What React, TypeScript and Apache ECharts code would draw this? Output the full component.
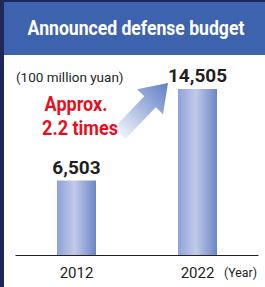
import React, { useEffect, useRef } from "react";
import * as echarts from "echarts";

const categories = ["2012", "2022"];
const budgetValues = [6503, 14505];
const titleText = "Announced defense budget";
const unitText = "(100 million yuan)";
const yearText = "(Year)";
const noteLines = ["Approx.", "2.2 times"];

const FONT = 'Roboto, "Liberation Sans", sans-serif';

function arrowPoints(tip: number[], dir: number[], shaftLen: number, headLen: number, headHalf: number, shaftHalf: number) {
  const l = Math.hypot(dir[0], dir[1]);
  const u = [dir[0] / l, dir[1] / l];
  const n = [-u[1], u[0]];
  const b = [tip[0] - headLen * u[0], tip[1] - headLen * u[1]];
  const t = [b[0] - shaftLen * u[0], b[1] - shaftLen * u[1]];
  const p = (c: number[], k: number) => [c[0] + k * n[0], c[1] + k * n[1]];
  return [p(t, shaftHalf), p(b, shaftHalf), p(b, headHalf), tip, p(b, -headHalf), p(b, -shaftHalf), p(t, -shaftHalf)];
}

export default function App() {
  const ref = useRef<HTMLDivElement>(null);
  useEffect(() => {
    if (!ref.current) return;
    const chart = echarts.init(ref.current, undefined, { renderer: "svg" });
    const barGrad = new echarts.graphic.LinearGradient(0, 0, 1, 0, [
      { offset: 0, color: "#8fa1d8" },
      { offset: 0.45, color: "#c2cae9" },
      { offset: 1, color: "#6a86c6" },
    ]);
    const arrowGrad = new echarts.graphic.LinearGradient(0, 1, 1, 0, [
      { offset: 0, color: "#ffffff" },
      { offset: 0.6, color: "#9fb0dc" },
      { offset: 1, color: "#5e7ec3" },
    ]);
    chart.setOption({
      animation: false,
      backgroundColor: "#ffffff",
      grid: { left: 16, right: 7, top: 89, bottom: 32 },
      xAxis: {
        type: "category",
        data: categories,
        axisLine: { lineStyle: { color: "#231f20", width: 1.2 } },
        axisTick: { show: false },
        axisLabel: { color: "#231f20", fontSize: 15, fontFamily: FONT, margin: 10 },
      },
      yAxis: {
        type: "value",
        min: 0,
        max: 14505,
        show: false,
        splitLine: { show: false },
      },
      series: [
        {
          type: "bar",
          data: budgetValues,
          barWidth: 39,
          itemStyle: { color: barGrad },
          label: {
            show: true,
            position: "top",
            distance: 4,
            color: "#231f20",
            fontSize: 19,
            fontWeight: "bold",
            fontFamily: FONT,
            formatter: (p: any) => Number(p.value).toLocaleString("en-US"),
          },
        },
      ],
      graphic: [
        { type: "rect", shape: { x: 0, y: 0, width: 4, height: 287 }, style: { fill: "#1e2858" } },
        { type: "rect", shape: { x: 0, y: 0, width: 265, height: 2 }, style: { fill: "#1e2858" } },
        { type: "rect", shape: { x: 4, y: 2, width: 261, height: 53 }, style: { fill: "#3d63ae" } },
        {
          type: "text",
          x: 136,
          y: 29,
          scaleX: 0.88,
          style: {
            text: titleText,
            fill: "#ffffff",
            fontSize: 20,
            fontWeight: "bold",
            fontFamily: FONT,
            textAlign: "center",
            textVerticalAlign: "middle",
          },
        },
        {
          type: "text",
          x: 16,
          y: 77,
          style: {
            text: unitText,
            fill: "#231f20",
            fontSize: 13.5,
            fontFamily: FONT,
            textAlign: "left",
            textVerticalAlign: "middle",
          },
        },
        {
          type: "polygon",
          shape: { points: arrowPoints([168, 83], [0.69, -0.72], 44, 26, 18, 8) },
          style: { fill: arrowGrad },
        },
        {
          type: "text",
          x: 76,
          y: 104,
          scaleX: 0.88,
          style: {
            text: noteLines[0],
            fill: "#e60f1e",
            fontSize: 20.5,
            fontWeight: "bold",
            fontFamily: FONT,
            textAlign: "center",
            textVerticalAlign: "middle",
          },
        },
        {
          type: "text",
          x: 80,
          y: 128,
          scaleX: 0.88,
          style: {
            text: noteLines[1],
            fill: "#e60f1e",
            fontSize: 20.5,
            fontWeight: "bold",
            fontFamily: FONT,
            textAlign: "center",
            textVerticalAlign: "middle",
          },
        },
        {
          type: "text",
          x: 257,
          y: 272,
          scaleX: 0.95,
          style: {
            text: yearText,
            fill: "#231f20",
            fontSize: 13,
            fontFamily: FONT,
            textAlign: "right",
            textVerticalAlign: "middle",
          },
        },
      ],
    });
    return () => chart.dispose();
  }, []);
  return (
    <div
      ref={ref}
      style={{ position: "fixed", left: 0, top: 0, width: 265, height: 287 }}
    />
  );
}
